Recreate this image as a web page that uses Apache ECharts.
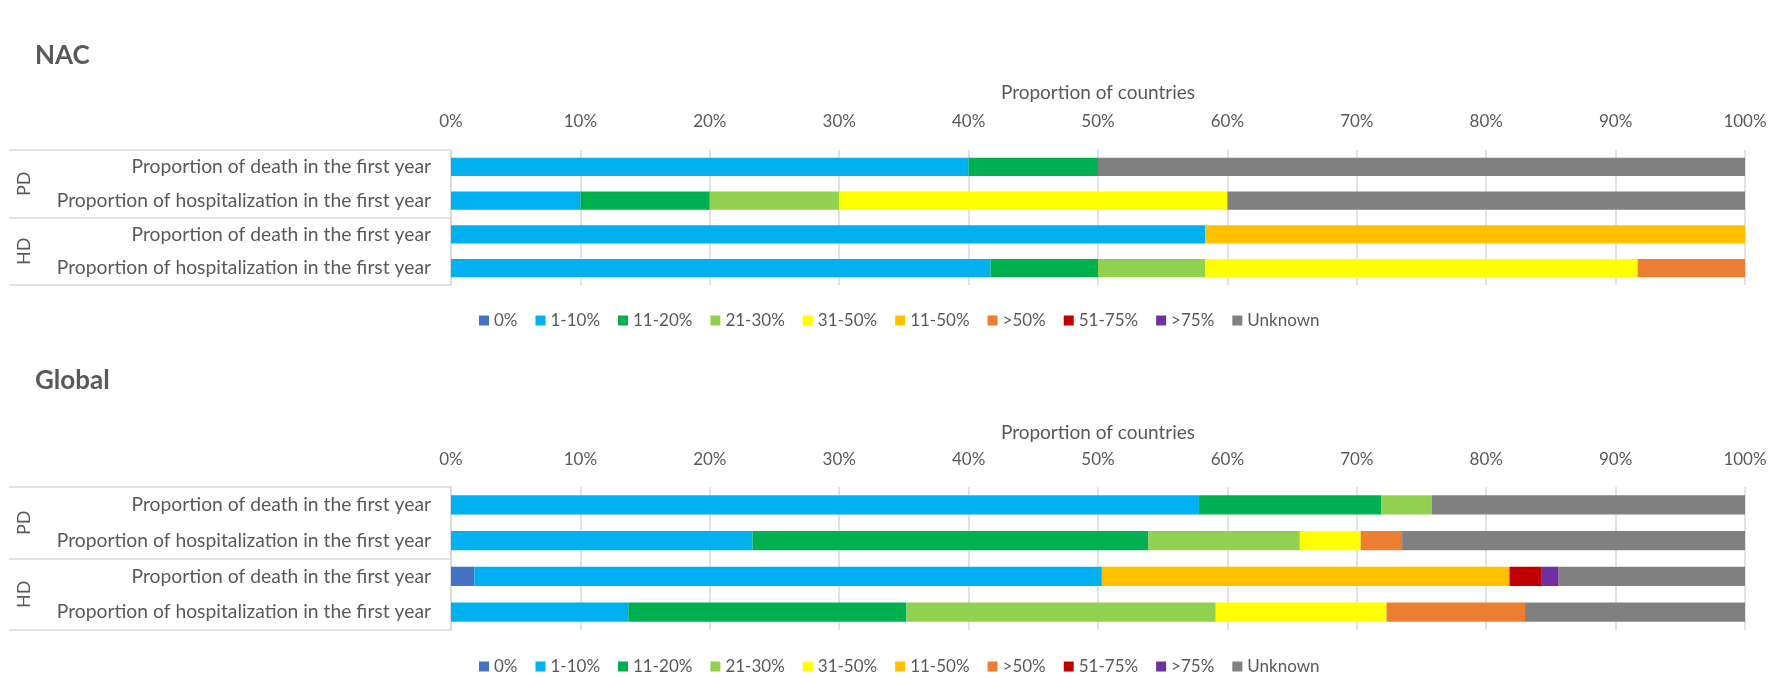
<!DOCTYPE html>
<html>
<head>
<meta charset="utf-8">
<script src="https://cdn.jsdelivr.net/npm/echarts@6/dist/echarts.min.js"></script>
<style>
html,body{margin:0;padding:0;background:#fff;}
#c{width:1789px;height:678px;}
</style>
</head>
<body>
<div id="c"></div>
<script>
const categories = ['Proportion of death in the first year','Proportion of hospitalization in the first year','Proportion of death in the first year','Proportion of hospitalization in the first year'];
const groups = ['PD','HD'];
const seriesNames = ['0%','1-10%','11-20%','21-30%','31-50%','11-50%','>50%','51-75%','>75%','Unknown'];
const colors = ['#4472C4','#00B0F0','#00B050','#92D050','#FFFF00','#FFC000','#ED7D31','#C00000','#7030A0','#808080'];

// NAC values (% of countries), rows: PD death, PD hosp, HD death, HD hosp
const nac0 = [0,0,0,0];
const nac1_10 = [40,10,58.3,41.7];
const nac11_20 = [10,10,0,8.3];
const nac21_30 = [0,10,0,8.3];
const nac31_50 = [0,30,0,33.4];
const nac11_50 = [0,0,41.7,0];
const nacGt50 = [0,0,0,8.3];
const nac51_75 = [0,0,0,0];
const nacGt75 = [0,0,0,0];
const nacUnknown = [50,40,0,0];

// Global values
const glo0 = [0,0,1.8,0];
const glo1_10 = [57.8,23.3,48.5,13.7];
const glo11_20 = [14.1,30.6,0,21.5];
const glo21_30 = [3.9,11.7,0,23.9];
const glo31_50 = [0,4.7,0,13.2];
const glo11_50 = [0,0,31.5,0];
const gloGt50 = [0,3.2,0,10.7];
const glo51_75 = [0,0,2.5,0];
const gloGt75 = [0,0,1.3,0];
const gloUnknown = [24.2,26.5,14.4,17.0];

const nacData = [nac0,nac1_10,nac11_20,nac21_30,nac31_50,nac11_50,nacGt50,nac51_75,nacGt75,nacUnknown];
const gloData = [glo0,glo1_10,glo11_20,glo21_30,glo31_50,glo11_50,gloGt50,glo51_75,gloGt75,gloUnknown];

const FONT = 'Lato';
const TXT = '#595959';
const LINE = '#D9D9D9';

function xAxis(gi, labelMargin, nameGap){
  return {
    type:'value', gridIndex:gi, position:'top', min:0, max:100, interval:10,
    name:'Proportion of countries', nameLocation:'middle', nameGap:nameGap,
    nameTextStyle:{color:TXT, fontFamily:FONT, fontSize:19},
    axisLine:{show:false}, axisTick:{show:false},
    axisLabel:{color:TXT, fontFamily:FONT, fontSize:17, margin:labelMargin, formatter:'{value}%'},
    splitLine:{lineStyle:{color:LINE, width:1.5}}
  };
}
function yInner(gi){
  return {
    type:'category', gridIndex:gi, inverse:true, data:categories, position:'left',
    axisLine:{show:true, lineStyle:{color:LINE, width:1.5}},
    axisTick:{show:false},
    axisLabel:{color:TXT, fontFamily:FONT, fontSize:19.3, margin:20}
  };
}
function yOuter(gi){
  return {
    type:'category', gridIndex:gi, inverse:true, data:groups, position:'left', offset:0,
    axisLine:{show:false},
    axisTick:{show:true, length:442, lineStyle:{color:LINE, width:1.5}},
    axisLabel:{color:TXT, fontFamily:FONT, fontSize:18, rotate:90, margin:418}
  };
}

const series = [];
[nacData, gloData].forEach((set, gi) => {
  set.forEach((vals, i) => {
    series.push({
      type:'bar', name:seriesNames[i], xAxisIndex:gi, yAxisIndex:gi*2,
      stack: gi===0 ? 'nac' : 'glo', barWidth:'54%',
      itemStyle:{color:colors[i]}, data:vals
    });
  });
});

function legend(top){
  return {
    top:top, left:474, itemWidth:10, itemHeight:10, icon:'rect', itemGap:18,
    textStyle:{color:TXT, fontFamily:FONT, fontSize:17}, data:seriesNames, selectedMode:false
  };
}

const chart = echarts.init(document.getElementById('c'), null, {renderer:'canvas'});
chart.setOption({
  backgroundColor:'#fff',
  animation:false,
  color:colors,
  title:[
    {text:'NAC', left:30, top:38, textStyle:{fontFamily:FONT, fontWeight:'bold', fontSize:26, color:TXT}},
    {text:'Global', left:30, top:363, textStyle:{fontFamily:FONT, fontWeight:'bold', fontSize:26, color:TXT}}
  ],
  legend:[legend(307), legend(653)],
  grid:[
    {left:451, right:44, top:150, height:135, containLabel:false, outerBoundsMode:'none'},
    {left:451, right:44, top:487, height:143, containLabel:false, outerBoundsMode:'none'}
  ],
  xAxis:[xAxis(0, 20, 48), xAxis(1, 18.5, 45)],
  yAxis:[yInner(0), yOuter(0), yInner(1), yOuter(1)],
  series: series
});
</script>
</body>
</html>
